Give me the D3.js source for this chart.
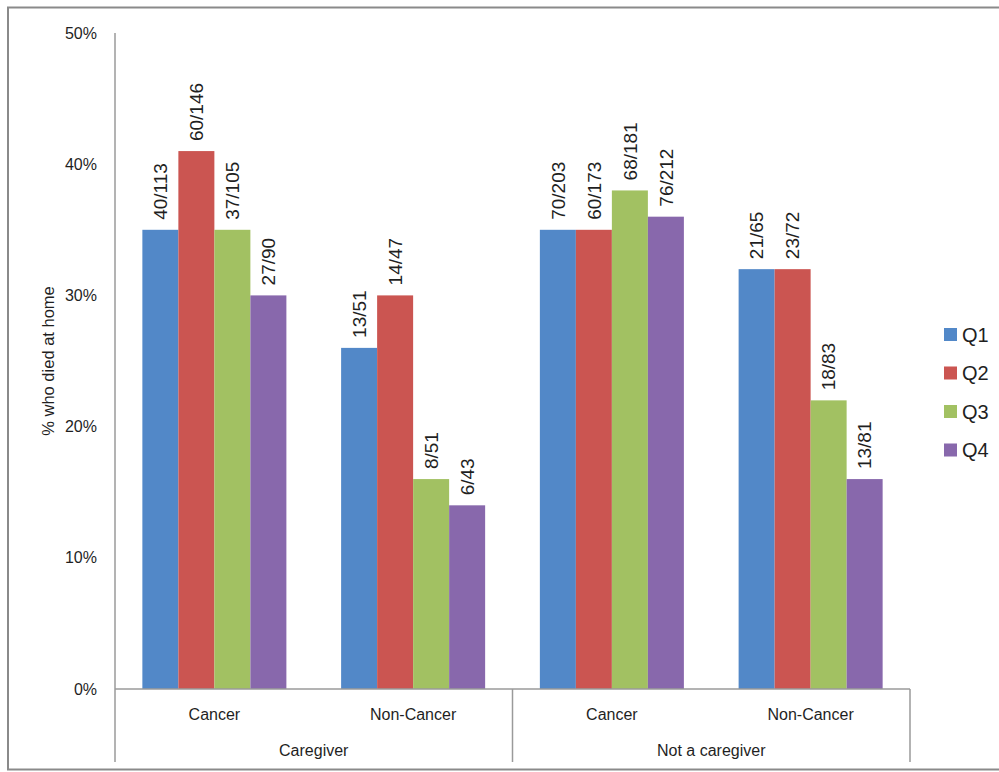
<!DOCTYPE html>
<html>
<head>
<meta charset="utf-8">
<script src="https://cdn.jsdelivr.net/npm/d3@7"></script>
<style>
  html, body { margin: 0; padding: 0; background: #fff; }
  svg { display: block; font-family: "Liberation Sans", Arial, sans-serif; }
</style>
</head>
<body>
<svg id="chart" width="999" height="772"></svg>
<script>
// ---- data ----
const categories = ["Cancer", "Non-Cancer", "Cancer", "Non-Cancer"];
const groups = ["Caregiver", "Not a caregiver"];
const categoryGroup = [0, 0, 1, 1];
const seriesNames = ["Q1", "Q2", "Q3", "Q4"];
const q1Values = [35, 26, 35, 32];
const q2Values = [41, 30, 35, 32];
const q3Values = [35, 16, 38, 22];
const q4Values = [30, 14, 36, 16];
const q1Labels = ["40/113", "13/51", "70/203", "21/65"];
const q2Labels = ["60/146", "14/47", "60/173", "23/72"];
const q3Labels = ["37/105", "8/51", "68/181", "18/83"];
const q4Labels = ["27/90", "6/43", "76/212", "13/81"];
const yTicks = [0, 10, 20, 30, 40, 50];
const yTickLabels = ["0%", "10%", "20%", "30%", "40%", "50%"];
const yTitle = "% who died at home";

const seriesValues = [q1Values, q2Values, q3Values, q4Values];
const seriesLabels = [q1Labels, q2Labels, q3Labels, q4Labels];
const colors = ["#5288C8", "#CB5551", "#A2C162", "#8868AC"];

// ---- layout ----
const svg = d3.select("#chart");
const mLeft = 115, mRight = 910, mTop = 33, mBottom = 689, axisBottom = 762;
const axisColor = "#9a9a9a";
const textColor = "#1f1f1f";

// frame
svg.append("rect")
  .attr("x", 8).attr("y", 7.5)
  .attr("width", 1100).attr("height", 762)
  .attr("fill", "none").attr("stroke", "#8a8a8a").attr("stroke-width", 2);

const y = d3.scaleLinear().domain([0, 50]).range([mBottom, mTop]);
const x0 = d3.scaleBand().domain(d3.range(categories.length)).range([mLeft, mRight]).padding(0);
const x1 = d3.scaleBand().domain(seriesNames).range([0, x0.bandwidth()]).paddingInner(0).paddingOuter(0.76);

// y axis via d3.axisLeft (no tick marks, no domain path)
const yAxis = d3.axisLeft(y).tickValues(yTicks).tickSize(0).tickPadding(18)
  .tickFormat((d, i) => yTickLabels[i]);
const gy = svg.append("g").attr("transform", `translate(${mLeft},0)`).call(yAxis);
gy.select(".domain").remove();
gy.selectAll("text").attr("font-size", 16).attr("fill", textColor)
  .attr("font-family", "Liberation Sans, Arial, sans-serif");

// y axis line
svg.append("line").attr("x1", mLeft).attr("x2", mLeft).attr("y1", mTop).attr("y2", axisBottom)
  .attr("stroke", axisColor).attr("stroke-width", 1.5);

// bars
const rows = [];
categories.forEach((c, ci) => {
  seriesNames.forEach((s, si) => {
    rows.push({ ci, s, si, v: seriesValues[si][ci], label: seriesLabels[si][ci] });
  });
});

svg.append("g").selectAll("rect").data(rows).join("rect")
  .attr("x", d => x0(d.ci) + x1(d.s))
  .attr("y", d => y(d.v))
  .attr("width", x1.bandwidth())
  .attr("height", d => y(0) - y(d.v))
  .attr("fill", d => colors[d.si]);

// data labels
svg.append("g").selectAll("text").data(rows).join("text")
  .attr("transform", d => `translate(${x0(d.ci) + x1(d.s) + x1.bandwidth() / 2},${y(d.v) - 10}) rotate(-90)`)
  .attr("dy", "0.35em")
  .attr("text-anchor", "start")
  .attr("font-size", 19)
  .attr("fill", textColor)
  .text(d => d.label);

// category axis line
svg.append("line").attr("x1", mLeft).attr("x2", mRight).attr("y1", mBottom).attr("y2", mBottom)
  .attr("stroke", axisColor).attr("stroke-width", 1.5);

// group dividers
const dividers = [x0(2), mRight];
svg.append("g").selectAll("line").data(dividers).join("line")
  .attr("x1", d => d).attr("x2", d => d)
  .attr("y1", mBottom).attr("y2", axisBottom)
  .attr("stroke", axisColor).attr("stroke-width", 1.5);

// category labels
svg.append("g").selectAll("text").data(categories).join("text")
  .attr("x", (d, i) => x0(i) + x0.bandwidth() / 2)
  .attr("y", 714).attr("dy", "0.35em")
  .attr("text-anchor", "middle").attr("font-size", 16).attr("fill", textColor)
  .text(d => d);

// group labels
svg.append("g").selectAll("text").data(groups).join("text")
  .attr("x", (d, gi) => {
    const idx = d3.range(categories.length).filter(i => categoryGroup[i] === gi);
    return (x0(idx[0]) + x0(idx[idx.length - 1]) + x0.bandwidth()) / 2;
  })
  .attr("y", 750).attr("dy", "0.35em")
  .attr("text-anchor", "middle").attr("font-size", 16).attr("fill", textColor)
  .text(d => d);

// y title
svg.append("text")
  .attr("transform", `translate(48,${(mTop + mBottom) / 2}) rotate(-90)`)
  .attr("dy", "0.35em")
  .attr("text-anchor", "middle").attr("font-size", 16.5).attr("fill", textColor)
  .text(yTitle);

// legend
const legend = svg.append("g").selectAll("g").data(seriesNames).join("g")
  .attr("transform", (d, i) => `translate(944,${334.5 + i * 38.5})`);
legend.append("rect").attr("x", 0).attr("y", -6.5).attr("width", 13).attr("height", 13)
  .attr("fill", (d, i) => colors[i]);
legend.append("text").attr("x", 18).attr("y", 0).attr("dy", "0.35em")
  .attr("font-size", 20).attr("fill", textColor).text(d => d);
</script>
</body>
</html>
